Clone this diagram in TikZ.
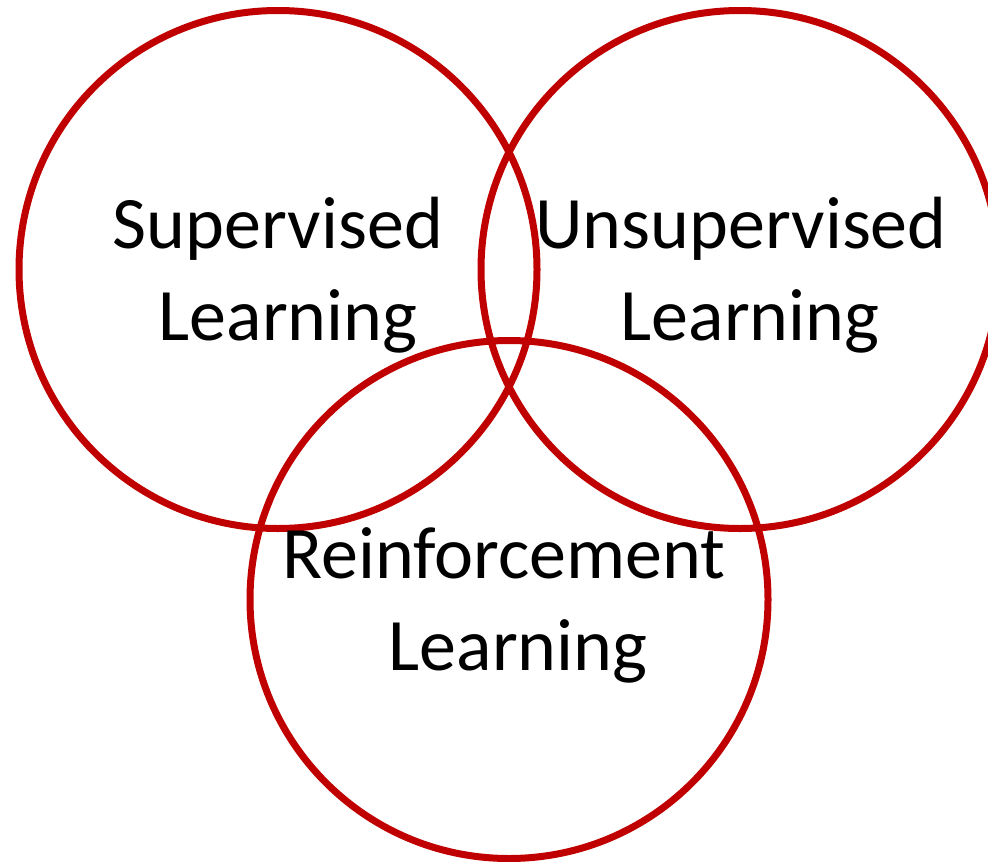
\documentclass[tikz,border=0pt]{standalone}
\usepackage{fontspec}
\setmainfont{Carlito}
\definecolor{vennred}{HTML}{C00000}
\begin{document}
\begin{tikzpicture}[x=1pt,y=-1pt,
  venn/.style={draw=vennred,line width=7pt,circle,minimum size=518pt,inner sep=0pt},
  lbl/.style={align=center,font=\fontsize{74pt}{92pt}\selectfont,inner sep=0pt,anchor=base}]
\useasboundingbox (0,0) rectangle (988,862);
\node[venn] (sup) at (278,269.5) {};
\node[venn] (uns) at (740,269.5) {};
\node[venn] (rei) at (509,599.5) {};
\node[lbl] (tsup) at (278,340) {Supervised\\\hspace*{20pt}Learning};
\node[lbl] (tuns) at (741,340) {Unsupervised\\\hspace*{18pt}Learning};
\node[lbl] (trei) at (504,670) {Reinforcement\\\hspace*{28pt}Learning};
\end{tikzpicture}
\end{document}
